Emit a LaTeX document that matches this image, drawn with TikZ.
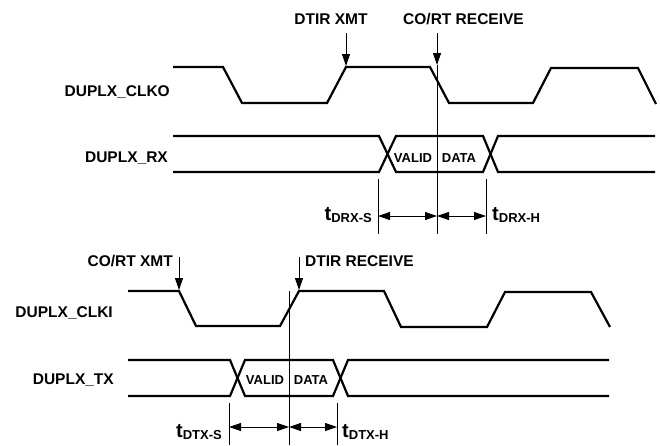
\documentclass[tikz,border=0pt]{standalone}
\usepackage{fontspec}
\setmainfont{Liberation Sans}
\usetikzlibrary{arrows.meta}
\newcommand{\sigfont}{\fontsize{15.5}{18}\selectfont\bfseries}
\newcommand{\datafont}{\fontsize{13}{15}\selectfont\bfseries}
\newcommand{\tdel}[1]{{\fontsize{20}{20}\selectfont t}\raisebox{-2pt}{\fontsize{13}{13}\selectfont #1}}
\tikzset{
  wave/.style    = { line width=2.2pt },
  guide/.style   = { line width=0.9pt },
  evt_arr/.style = { line width=0.9pt, -{Triangle[length=12pt,width=8pt]} },
  dim/.style     = { line width=0.9pt, {Triangle[length=12pt,width=8pt]}-{Triangle[length=12pt,width=8pt]} },
  sig/.style     = { font=\sigfont, anchor=base east, inner sep=0pt },
  evt/.style     = { font=\sigfont, inner sep=0pt },
  data/.style    = { font=\datafont, anchor=base, inner sep=0pt },
  tlab/.style    = { font=\bfseries, inner sep=0pt }
}

\begin{document}
\begin{tikzpicture}[x=1pt,y=-1pt]
\useasboundingbox (0,0) rectangle (660,445);

% ---- output side
\node[sig] (clko) at (170,96) {DUPLX\_CLKO};
\node[sig] (rx) at (168,162) {DUPLX\_RX};
\node[evt, anchor=base] (xmt_o) at (331,24) {DTIR XMT};
\node[evt, anchor=base west] (rcv_o) at (403,24) {CO/RT RECEIVE};

\draw[wave] (173,67) -- (223,67) -- (242,103) -- (327,103) -- (346,67) -- (430,67)
  -- (449,103) -- (533,103) -- (551,68) -- (638,68) -- (656,104);
\draw[wave] (173,136) -- (379,136) -- (396,172) -- (483,172) -- (498,136) -- (655,136);
\draw[wave] (173,172) -- (379,172) -- (396,136) -- (483,136) -- (498,172) -- (655,172);
\node[data] (valid_o) at (413,162) {VALID};
\node[data] (data_o) at (459,162) {DATA};

\coordinate (xmt_o_a) at (346,33);
\coordinate (xmt_o_b) at (346,66);
\coordinate (rcv_o_a) at (437,33);
\coordinate (rcv_o_b) at (437,65);
\coordinate (rcv_o_c) at (437,234);
\draw[evt_arr] (xmt_o_a) -- (xmt_o_b);
\draw[evt_arr] (rcv_o_a) -- (rcv_o_b);
\draw[guide] (rcv_o_b) -- (rcv_o_c);

\coordinate (su_o) at (378,216);
\coordinate (ho_o) at (486,216);
\coordinate (mid_o) at (437,216);
\draw[guide] (378,179) -- (378,234);
\draw[guide] (486,179) -- (486,234);
\draw[dim] (su_o) -- (mid_o);
\draw[dim] (mid_o) -- (ho_o);
\node[tlab, anchor=base east] (tsu_o) at (372,220) {\tdel{DRX-S}};
\node[tlab, anchor=base west] (tho_o) at (492,220) {\tdel{DRX-H}};

% ---- input side
\node[sig] (clki) at (113,317) {DUPLX\_CLKI};
\node[sig] (tx) at (114,384) {DUPLX\_TX};
\node[evt, anchor=base east] (xmt_i) at (173,266) {CO/RT XMT};
\node[evt, anchor=base west] (rcv_i) at (305,266) {DTIR RECEIVE};

\draw[wave] (128,291) -- (179,291) -- (196,326) -- (280,326) -- (299,291) -- (384,291)
  -- (401,327) -- (487,327) -- (505,292) -- (591,292) -- (610,327);
\draw[wave] (128,360) -- (230,360) -- (245,396) -- (333,396) -- (348,360) -- (609,360);
\draw[wave] (128,396) -- (230,396) -- (245,360) -- (333,360) -- (348,396) -- (609,396);
\node[data] (valid_i) at (265,384) {VALID};
\node[data] (data_i) at (311,384) {DATA};

\coordinate (xmt_i_a) at (179,257);
\coordinate (xmt_i_b) at (179,290);
\coordinate (rcv_i_a) at (299,257);
\coordinate (rcv_i_b) at (299,290);
\draw[evt_arr] (xmt_i_a) -- (xmt_i_b);
\draw[evt_arr] (rcv_i_a) -- (rcv_i_b);
\draw[guide] (289,291) -- (289,445);

\coordinate (su_i) at (229,427);
\coordinate (ho_i) at (337,427);
\coordinate (mid_i) at (289,427);
\draw[guide] (229,403) -- (229,445);
\draw[guide] (337,403) -- (337,445);
\draw[dim] (su_i) -- (mid_i);
\draw[dim] (mid_i) -- (ho_i);
\node[tlab, anchor=base east] (tsu_i) at (222,437) {\tdel{DTX-S}};
\node[tlab, anchor=base west] (tho_i) at (342,437) {\tdel{DTX-H}};
\end{tikzpicture}
\end{document}
